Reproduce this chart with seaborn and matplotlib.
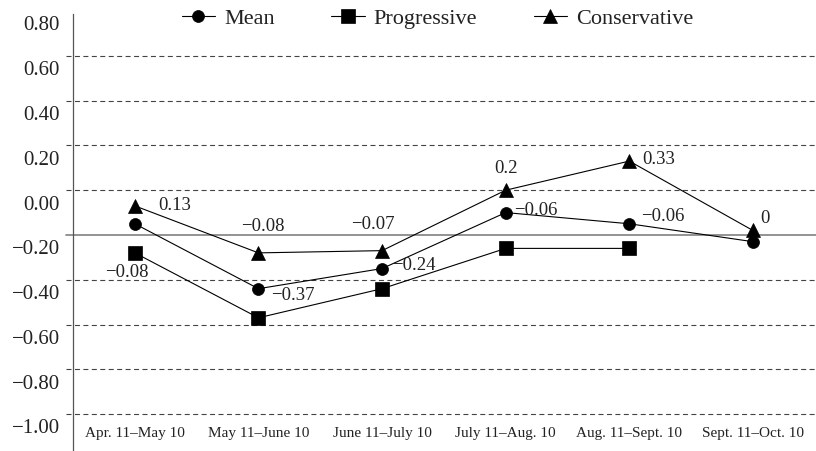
import numpy as np
import pandas as pd
import matplotlib
matplotlib.use("Agg")
import matplotlib.pyplot as plt
import seaborn as sns

# ---------------- data ----------------
periods = ["Apr. 11–May 10", "May 11–June 10", "June 11–July 10",
           "July 11–Aug. 10", "Aug. 11–Sept. 10", "Sept. 11–Oct. 10"]
series_names = ["Mean", "Progressive", "Conservative"]
mean_vals = [0.05, -0.24, -0.15, 0.10, 0.05, -0.03]
progressive_vals = [-0.08, -0.37, -0.24, -0.06, -0.06, np.nan]
conservative_vals = [0.13, -0.08, -0.07, 0.20, 0.33, 0.02]
conservative_labels = ["0.13", "−0.08", "−0.07", "0.2", "0.33", "0"]
progressive_labels = ["−0.08", "−0.37", "−0.24", "−0.06", "−0.06", ""]
ytick_values = [0.8, 0.6, 0.4, 0.2, 0.0, -0.2, -0.4, -0.6, -0.8, -1.0]
ytick_labels = ["0.80", "0.60", "0.40", "0.20", "0.00",
                "−0.20", "−0.40", "−0.60", "−0.80", "−1.00"]
grid_values = [0.8, 0.6, 0.4, 0.2, -0.2, -0.4, -0.6, -0.8]

df = pd.DataFrame({
    "x": np.tile(np.arange(len(periods)), 3),
    "value": mean_vals + progressive_vals + conservative_vals,
    "series": np.repeat(series_names, len(periods)),
})

# ---------------- style ----------------
sns.set_style("white")
plt.rcParams["font.family"] = ["Liberation Serif", "DejaVu Serif"]

W, H = 816, 451
fig = plt.figure(figsize=(W / 100, H / 100), dpi=100)
ax = fig.add_axes([73 / W, 0, (W - 73) / W, (H - 14) / H])

marker_map = {"Mean": "o", "Progressive": "s", "Conservative": "^"}
marker_size = {"Mean": 8.6, "Progressive": 9.6, "Conservative": 9.5}

sns.lineplot(data=df, x="x", y="value", hue="series", style="series",
             hue_order=series_names, style_order=series_names,
             palette={n: "black" for n in series_names},
             markers=marker_map, dashes=False, linewidth=0.8,
             markeredgecolor="black", markeredgewidth=0.5,
             estimator=None, sort=False, legend=False, ax=ax, zorder=3)
data_lines = list(ax.lines[:3])
for line, name in zip(data_lines, series_names):
    line.set_markersize(marker_size[name])
    line.set_markeredgecolor("black")
    line.set_markerfacecolor("black")

# gridlines
ext = -7 / (W - 73)
for g in grid_values:
    ax.axhline(g, xmin=ext, xmax=1, color="#444444", lw=0.8,
               linestyle=(0, (4.5, 3.1)), clip_on=False, zorder=1)
ax.axhline(0, xmin=ext, xmax=1, color="#808080", lw=1.2,
           clip_on=False, zorder=1)

ax.set_xlim(-0.50, 5.51)
ax.set_ylim(-0.965, 0.987)

# axes / ticks
for s in ["top", "right", "bottom"]:
    ax.spines[s].set_visible(False)
ax.spines["left"].set_color("#555555")
ax.spines["left"].set_linewidth(0.9)

ax.set_yticks(np.array(ytick_values) + 0.145, ytick_labels)
ax.tick_params(axis="y", length=0, pad=9.5, labelsize=15, labelcolor="#222222")
ax.set_xticks(np.arange(len(periods)), periods)
ax.tick_params(axis="x", length=0, pad=-17.5, labelsize=11, labelcolor="#222222")
ax.set_xlabel("")
ax.set_ylabel("")
ax.grid(False)

# data labels
lab_kw = dict(textcoords="offset pixels", fontsize=13.5, color="#222222",
              va="center", zorder=4)
cons_offsets = [(23, 0, "left"), (4, 26, "center"), (-9, 26, "center"),
                (0, 22, "center"), (13, 2, "left"), (7, 12, "left")]
for i, (lbl, (dx, dy, ha)) in enumerate(zip(conservative_labels, cons_offsets)):
    ax.annotate(lbl, (i, conservative_vals[i]), xytext=(dx, dy), ha=ha, **lab_kw)

# progressive labels: first one beneath its own marker, the rest beside the mean marker
prog_anchor = [progressive_vals, mean_vals, mean_vals, mean_vals, mean_vals]
prog_offsets = [(-8, -20, "center"), (13, -7, "left"), (10, 3, "left"),
                (8, 2, "left"), (12, 7, "left")]
for i, (anchor, (dx, dy, ha)) in enumerate(zip(prog_anchor, prog_offsets)):
    ax.annotate(progressive_labels[i], (i, anchor[i]), xytext=(dx, dy), ha=ha, **lab_kw)

# legend
leg = ax.legend(handles=data_lines, labels=series_names, loc="center",
                bbox_to_anchor=((437.5 - 73) / (W - 73), (H - 19) / (H - 14)),
                ncol=3, frameon=False, fontsize=16, handlelength=1.5,
                handletextpad=0.4, columnspacing=2.55, borderpad=0)
for t in leg.get_texts():
    t.set_color("#222222")

fig.savefig("out.png", dpi=100)
